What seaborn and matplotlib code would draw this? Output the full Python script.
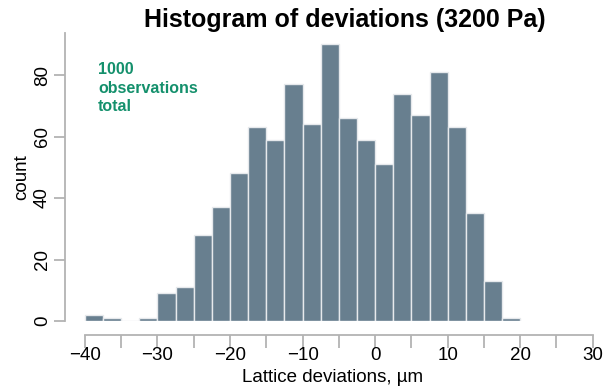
import numpy as np
import pandas as pd
import matplotlib
matplotlib.use("Agg")
import matplotlib.pyplot as plt
import seaborn as sns
from matplotlib.ticker import MultipleLocator

# --- data ---
bin_edges = [-40 + 2.5 * i for i in range(25)]  # -40 ... 20, width 2.5
counts = [2, 1, 0, 1, 9, 11, 28, 37, 48, 63, 59, 77, 64, 90,
          66, 59, 51, 74, 67, 81, 63, 35, 13, 1]
x_ticks = [-40, -30, -20, -10, 0, 10, 20, 30]
y_ticks = [0, 20, 40, 60, 80]
title = "Histogram of deviations (3200 Pa)"
x_label = "Lattice deviations, µm"
y_label = "count"
note = "1000\nobservations\ntotal"

centers = [(bin_edges[i] + bin_edges[i + 1]) / 2 for i in range(len(counts))]
df = pd.DataFrame({"dev": centers, "n": counts})

sns.set_theme(style="white")
plt.rcParams["font.family"] = ["Liberation Sans", "DejaVu Sans"]

W, H = 611, 387
fig = plt.figure(figsize=(W / 100, H / 100), dpi=100)
ax_left, ax_right, ax_top, ax_bot = 65, 600, 33, 321
ax = fig.add_axes([ax_left / W, (H - ax_bot) / H,
                   (ax_right - ax_left) / W, (ax_bot - ax_top) / H])

sns.histplot(data=df, x="dev", weights="n", bins=bin_edges, ax=ax,
             color="#687f8f", alpha=1.0, edgecolor="#e6e9ec", linewidth=1.0)

ax.set_xlim(-42.75, 31.0)
ax.set_ylim(0, 93.7)

ax.set_xticks(x_ticks)
ax.xaxis.set_minor_locator(MultipleLocator(5))
ax.set_yticks(y_ticks)

spine_col = "#b3b3b3"
for s in ["top", "right"]:
    ax.spines[s].set_visible(False)
ax.spines["left"].set_color(spine_col)
ax.spines["bottom"].set_color(spine_col)
ax.spines["left"].set_linewidth(1.3)
ax.spines["bottom"].set_linewidth(1.3)
ax.spines["bottom"].set_position(("outward", 10))
ax.spines["bottom"].set_bounds(-40, 30)

ax.tick_params(axis="both", which="both", direction="out", color=spine_col,
               width=1.3, labelsize=13.5, labelcolor="black")
ax.tick_params(axis="x", which="both", length=9, pad=0, bottom=True)
ax.tick_params(axis="y", which="major", length=8, pad=2, left=True)
for lab in ax.get_yticklabels():
    lab.set_rotation(90)
    lab.set_va("center")

ax.set_xlabel(x_label, fontsize=13.5, color="black", labelpad=3)
ax.set_ylabel(y_label, fontsize=13.5, color="black", labelpad=3)

fig.text(345 / W, 1 - 20 / H, title, ha="center", va="center",
         fontsize=18, fontweight="bold", color="black")
fig.text(98 / W, 1 - 62 / H, note, ha="left", va="top", fontsize=11.5,
         fontweight="bold", color="#14906c", linespacing=1.3)

fig.savefig("out.png", dpi=100)
